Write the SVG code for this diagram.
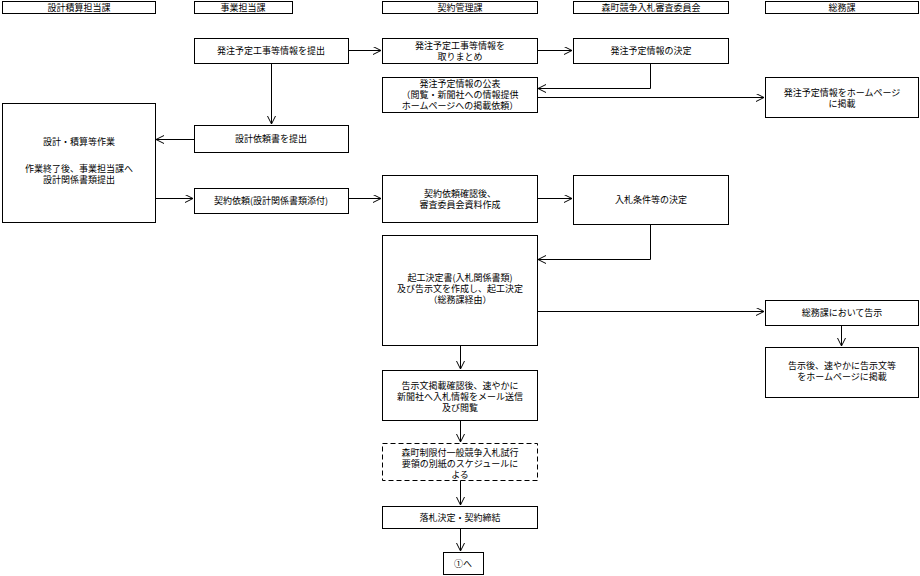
<svg xmlns="http://www.w3.org/2000/svg" width="920" height="576" viewBox="0 0 920 576">
<style>
rect{fill:#fff;stroke:#000;stroke-width:1}
.d{stroke-dasharray:5,3}
text{font-family:"Noto Sans CJK JP","Liberation Sans",sans-serif;font-size:9px;text-anchor:middle;fill:#000}
#connectors path{fill:none;stroke:#000;stroke-width:1;marker-end:url(#a)}
</style>
<defs><marker id="a" markerWidth="10" markerHeight="10" refX="8" refY="4" orient="auto" markerUnits="userSpaceOnUse"><path d="M0,0 L8,4 L0,8" fill="none" stroke="#000"/></marker></defs>
<g id="h1"><rect x="2.5" y="1.5" width="153" height="12"/><text x="79" y="11">設計積算担当課</text></g>
<g id="h2"><rect x="194.5" y="1.5" width="98" height="12"/><text x="243" y="11">事業担当課</text></g>
<g id="h3"><rect x="382.5" y="1.5" width="155" height="12"/><text x="460" y="11">契約管理課</text></g>
<g id="h4"><rect x="573.5" y="1.5" width="155" height="12"/><text x="651" y="11">森町競争入札審査委員会</text></g>
<g id="h5"><rect x="765.5" y="1.5" width="153" height="12"/><text x="842" y="11">総務課</text></g>
<g id="n1"><rect x="194.5" y="38.5" width="154" height="25"/><text x="271" y="54">発注予定工事等情報を提出</text></g>
<g id="n2"><rect x="382.5" y="38.5" width="155" height="25"/><text x="460" y="49">発注予定工事等情報を</text><text x="460" y="60">取りまとめ</text></g>
<g id="n3"><rect x="573.5" y="38.5" width="155" height="25"/><text x="651" y="54">発注予定情報の決定</text></g>
<g id="n4"><rect x="382.5" y="77.5" width="155" height="35"/><text x="460" y="87">発注予定情報の公表</text><text x="460" y="98">（閲覧・新聞社への情報提供</text><text x="460" y="109">ホームページへの掲載依頼）</text></g>
<g id="n5"><rect x="765.5" y="77.5" width="153" height="40"/><text x="842" y="96">発注予定情報をホームページ</text><text x="842" y="107">に掲載</text></g>
<g id="n6"><rect x="2.5" y="103.5" width="153" height="119"/><text x="79" y="145">設計・積算等作業</text><text x="79" y="172">作業終了後、事業担当課へ</text><text x="79" y="183">設計関係書類提出</text></g>
<g id="n7"><rect x="194.5" y="125.5" width="154" height="27"/><text x="271" y="142">設計依頼書を提出</text></g>
<g id="n8"><rect x="194.5" y="188.5" width="154" height="25"/><text x="271" y="204">契約依頼(設計関係書類添付)</text></g>
<g id="n9"><rect x="382.5" y="175.5" width="155" height="47"/><text x="460" y="197">契約依頼確認後、</text><text x="460" y="208">審査委員会資料作成</text></g>
<g id="n10"><rect x="573.5" y="175.5" width="155" height="49"/><text x="651" y="203">入札条件等の決定</text></g>
<g id="n11"><rect x="382.5" y="235.5" width="155" height="110"/><text x="460" y="281">起工決定書(入札関係書類)</text><text x="460" y="292">及び告示文を作成し、起工決定</text><text x="460" y="303">（総務課経由）</text></g>
<g id="n12"><rect x="765.5" y="300.5" width="153" height="25"/><text x="842" y="316">総務課において告示</text></g>
<g id="n13"><rect x="765.5" y="347.5" width="153" height="50"/><text x="842" y="369">告示後、速やかに告示文等</text><text x="842" y="380">をホームページに掲載</text></g>
<g id="n14"><rect x="382.5" y="370.5" width="155" height="50"/><text x="460" y="389">告示文掲載確認後、速やかに</text><text x="460" y="400">新聞社へ入札情報をメール送信</text><text x="460" y="411">及び閲覧</text></g>
<g id="n15"><rect class="d" x="382.5" y="443.5" width="155" height="37"/><text x="460" y="456">森町制限付一般競争入札試行</text><text x="460" y="467">要領の別紙のスケジュールに</text><text x="460" y="478">よる</text></g>
<g id="n16"><rect x="382.5" y="506.5" width="155" height="22"/><text x="460" y="521">落札決定・契約締結</text></g>
<g id="n17"><rect x="443.5" y="552.5" width="40" height="22"/><text x="463" y="567">①へ</text></g>
<g id="connectors">
<path d="M348.5,50.5H381"/>
<path d="M537.5,50.5H572"/>
<path d="M650.5,63.5V88.5H538"/>
<path d="M537.5,97.5H764"/>
<path d="M271.5,63.5V124"/>
<path d="M194.5,139.5H156"/>
<path d="M155.5,198.5H193"/>
<path d="M348.5,198.5H381"/>
<path d="M537.5,198.5H572"/>
<path d="M650.5,224.5V259.5H538"/>
<path d="M537.5,311.5H764"/>
<path d="M841.5,325.5V346"/>
<path d="M460.5,345.5V369"/>
<path d="M460.5,420.5V442"/>
<path d="M460.5,480.5V505"/>
<path d="M460.5,528.5V551"/>
</g>
</svg>
